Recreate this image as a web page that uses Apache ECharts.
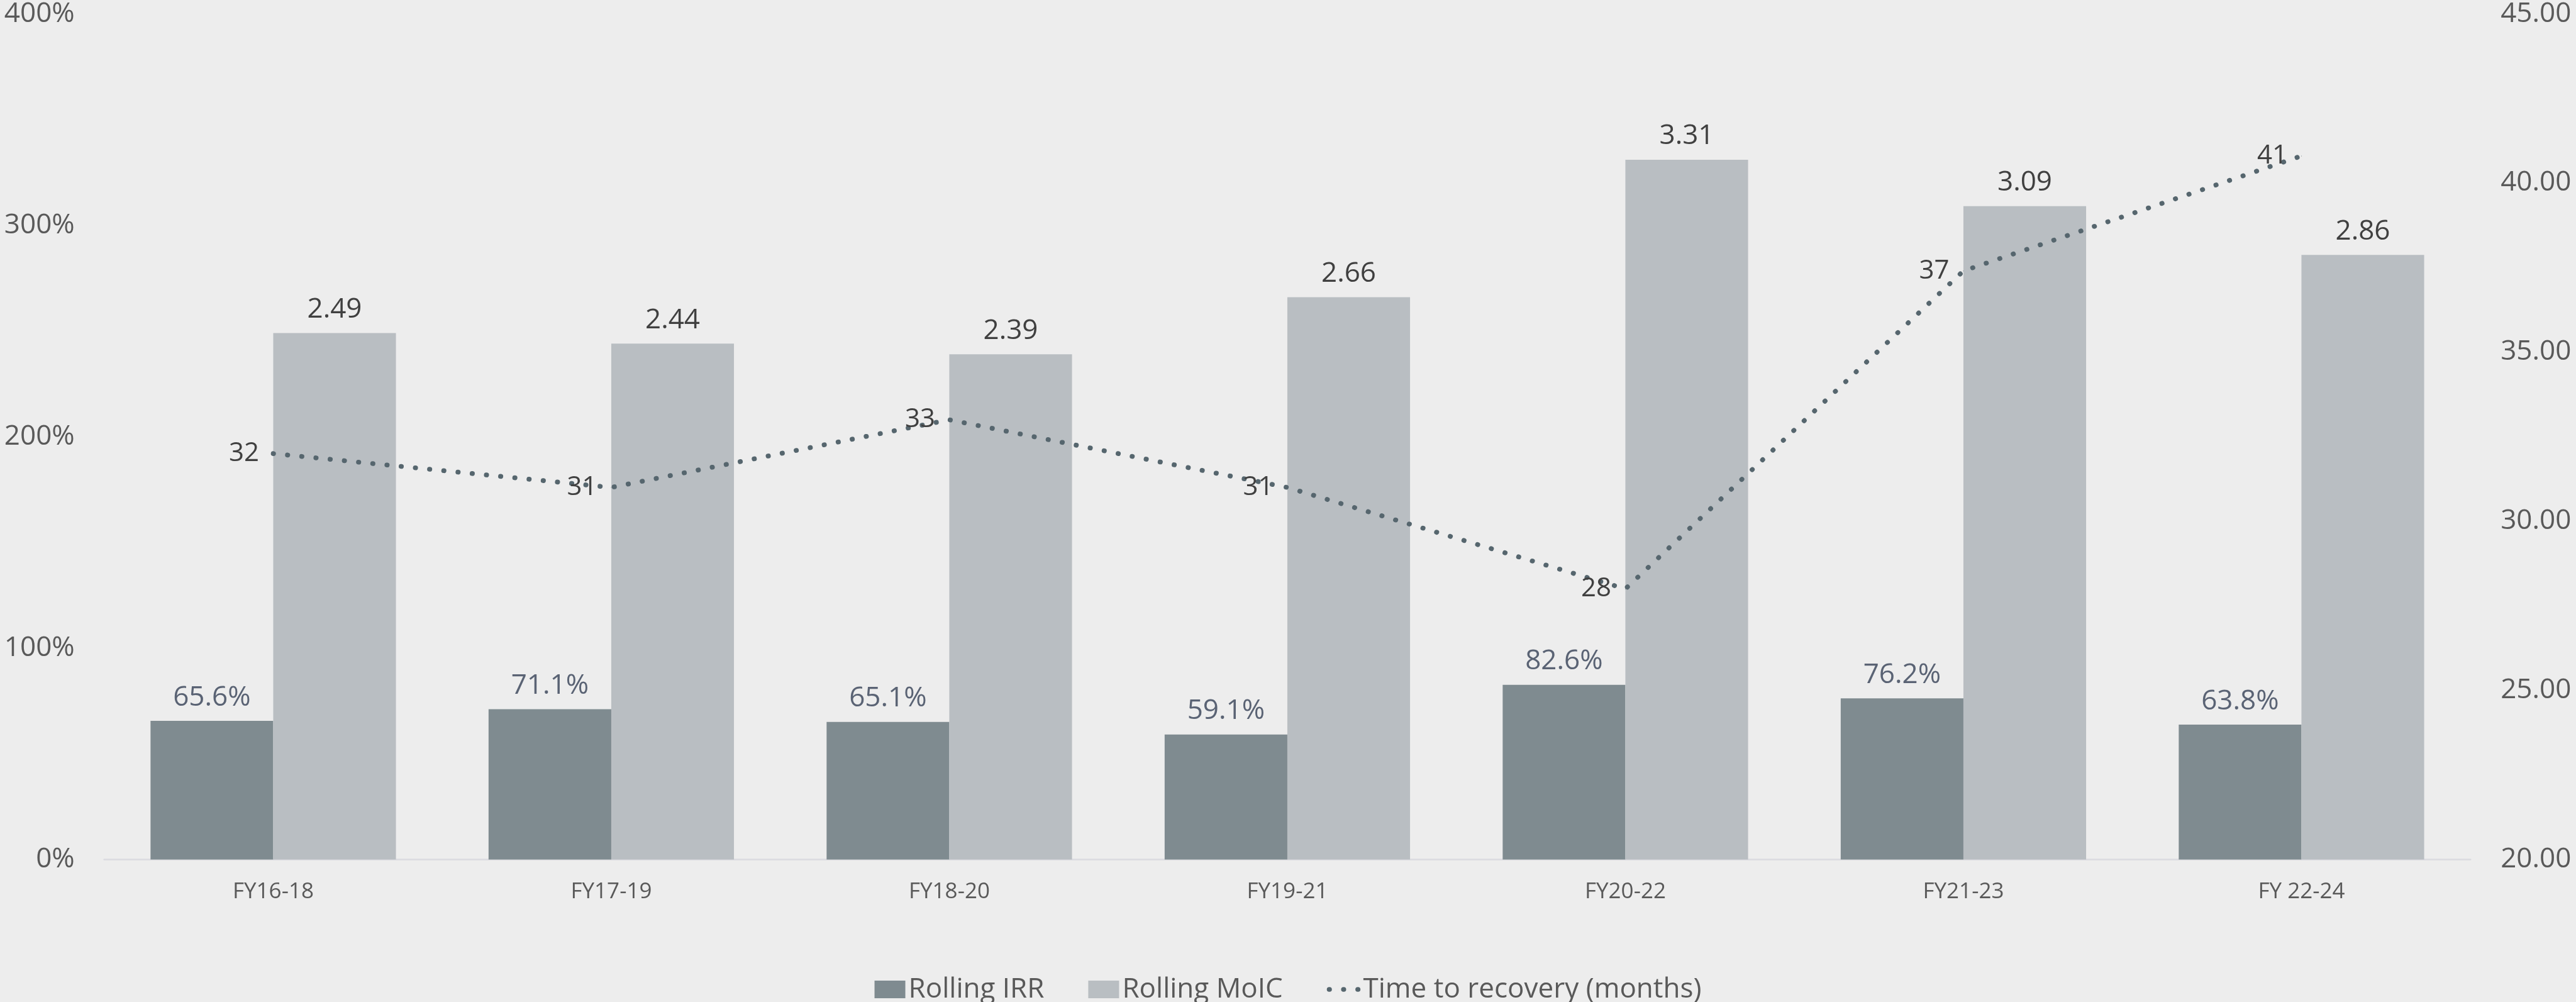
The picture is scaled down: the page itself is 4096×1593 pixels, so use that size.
<!DOCTYPE html>
<html>
<head>
<meta charset="utf-8">
<script src="https://cdn.jsdelivr.net/npm/echarts@6/dist/echarts.min.js"></script>
<style>
  html, body { margin: 0; padding: 0; background: #EDEDED; }
  #chart { width: 4096px; height: 1593px; }
</style>
</head>
<body>
<div id="chart"></div>
<script>
// Rolling three-year windows
const categories = ['FY16-18', 'FY17-19', 'FY18-20', 'FY19-21', 'FY20-22', 'FY21-23', 'FY 22-24'];
// Rolling IRR (fraction, shown as %)
const rollingIrr = [0.656, 0.711, 0.651, 0.591, 0.826, 0.762, 0.638];
// Rolling MoIC (multiple, plotted on the same primary axis)
const rollingMoic = [2.49, 2.44, 2.39, 2.66, 3.31, 3.09, 2.86];
// Time to recovery in months (secondary axis)
const recoveryMonths = [32, 31, 33, 31, 28, 37.4, 40.8];
// Axis ranges
const leftAxisTicks = [0, 1, 2, 3, 4];
const rightAxisTicks = [20, 25, 30, 35, 40, 45];

const FONT = "'Open Sans', 'Noto Sans', sans-serif";
const TICK_COLOR = '#595959';
const LINE_COLOR = '#56666E';
const dotDash = [0.5, 22.2];

const chart = echarts.init(document.getElementById('chart'), null, { renderer: 'canvas' });

chart.setOption({
  animation: false,
  backgroundColor: '#EDEDED',
  textStyle: { fontFamily: FONT },
  grid: { left: 165.7, right: 167.8, top: 21.8, bottom: 226.5, containLabel: false },
  legend: {
    left: 'center',
    top: 1546,
    itemWidth: 49,
    itemHeight: 28,
    itemGap: 70,
    textStyle: { fontFamily: FONT, fontSize: 44, color: TICK_COLOR, lineHeight: 44 },
    data: [
      { name: 'Rolling IRR', icon: 'rect' },
      { name: 'Rolling MoIC', icon: 'rect' },
      {
        name: 'Time to recovery (months)',
        itemStyle: { color: 'rgba(0,0,0,0)', borderWidth: 0 },
        lineStyle: { color: LINE_COLOR, width: 7.6, type: dotDash, cap: 'round' }
      }
    ]
  },
  xAxis: {
    type: 'category',
    data: categories,
    axisLine: { show: true, lineStyle: { color: '#DADADF', width: 2.6 } },
    axisTick: { show: false },
    axisLabel: { fontFamily: FONT, fontSize: 35, color: TICK_COLOR, margin: 34 }
  },
  yAxis: [
    {
      type: 'value',
      min: leftAxisTicks[0],
      max: leftAxisTicks[leftAxisTicks.length - 1],
      interval: leftAxisTicks[1] - leftAxisTicks[0],
      axisLine: { show: false },
      axisTick: { show: false },
      splitLine: { show: false },
      axisLabel: {
        fontFamily: FONT, fontSize: 44, color: TICK_COLOR, margin: 47,
        formatter: v => Math.round(v * 100) + '%'
      }
    },
    {
      type: 'value',
      position: 'right',
      min: rightAxisTicks[0],
      max: rightAxisTicks[rightAxisTicks.length - 1],
      interval: rightAxisTicks[1] - rightAxisTicks[0],
      axisLine: { show: false },
      axisTick: { show: false },
      splitLine: { show: false },
      axisLabel: {
        fontFamily: FONT, fontSize: 44, color: TICK_COLOR, margin: 48,
        formatter: v => v.toFixed(2)
      }
    }
  ],
  series: [
    {
      name: 'Rolling IRR',
      type: 'bar',
      yAxisIndex: 0,
      data: rollingIrr,
      barGap: '0%',
      barCategoryGap: '27.4%',
      itemStyle: { color: '#7F8B90' },
      label: {
        show: true, position: 'top', distance: 15,
        fontFamily: FONT, fontSize: 44, color: '#5A6374',
        formatter: p => (p.value * 100).toFixed(1) + '%'
      }
    },
    {
      name: 'Rolling MoIC',
      type: 'bar',
      yAxisIndex: 0,
      data: rollingMoic,
      barGap: '0%',
      barCategoryGap: '27.4%',
      itemStyle: { color: '#B9BEC2' },
      label: {
        show: true, position: 'top', distance: 15,
        fontFamily: FONT, fontSize: 44, color: '#404040',
        formatter: p => p.value.toFixed(2)
      }
    },
    {
      name: 'Time to recovery (months)',
      type: 'line',
      yAxisIndex: 1,
      data: recoveryMonths,
      z: 5,
      symbol: 'circle',
      symbolSize: 1,
      itemStyle: { color: LINE_COLOR },
      lineStyle: { color: LINE_COLOR, width: 7.6, type: dotDash, cap: 'round' },
      label: {
        show: true, position: 'left', distance: 22,
        fontFamily: FONT, fontSize: 42, color: '#404040',
        formatter: p => String(Math.round(p.value))
      }
    }
  ]
});
</script>
</body>
</html>
